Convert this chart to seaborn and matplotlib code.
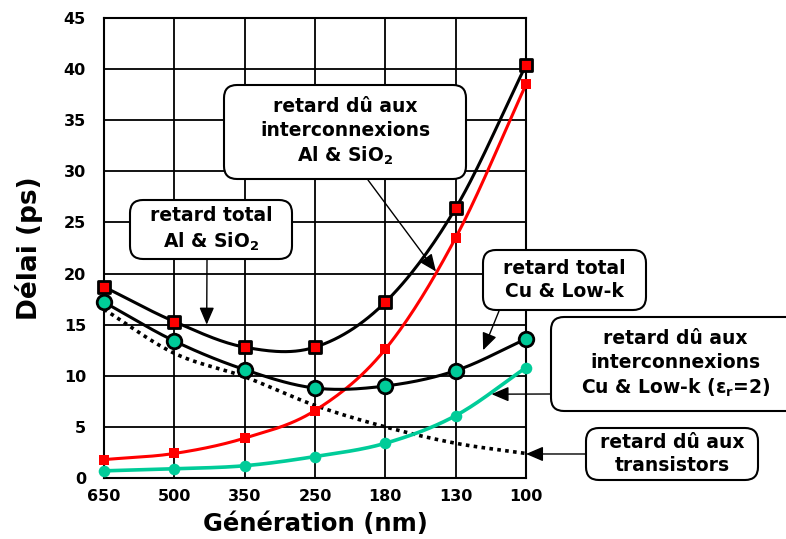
import numpy as np
import matplotlib
matplotlib.use("Agg")
import matplotlib.pyplot as plt
import seaborn as sns
from matplotlib.patches import FancyBboxPatch, ConnectionPatch

# ---------------- data ----------------
generations = ["650", "500", "350", "250", "180", "130", "100"]
interconnect_al = [1.8, 2.4, 3.9, 6.6, 12.6, 23.5, 38.5]
total_al = [18.7, 15.3, 12.8, 12.8, 17.2, 26.4, 40.4]
total_cu = [17.2, 13.4, 10.6, 8.8, 9.0, 10.5, 13.6]
interconnect_cu = [0.7, 0.9, 1.2, 2.1, 3.4, 6.1, 10.8]
transistors = [16.5, 12.2, 9.9, 7.1, 5.0, 3.4, 2.4]
y_ticks = [0, 5, 10, 15, 20, 25, 30, 35, 40, 45]

RED = "#FF0000"
TEAL = "#00CC99"

sns.set_style("white")
plt.rcParams["font.family"] = ["DejaVu Sans"]
plt.rcParams["font.weight"] = "bold"
plt.rcParams["mathtext.default"] = "bf"
for k in ("text.color", "axes.labelcolor", "xtick.color", "ytick.color"):
    plt.rcParams[k] = "black"

W, H = 786, 539
fig = plt.figure(figsize=(W / 100, H / 100), dpi=100)
ax = fig.add_axes([104 / W, 61 / H, 422 / W, 460 / H])


def smooth(vals, n=30):
    """Catmull-Rom smoothing through the points (Excel-like smoothed line)."""
    x = np.arange(len(vals), dtype=float)
    y = np.asarray(vals, dtype=float)
    px = np.concatenate([[2 * x[0] - x[1]], x, [2 * x[-1] - x[-2]]])
    py = np.concatenate([[2 * y[0] - y[1]], y, [2 * y[-1] - y[-2]]])
    xs, ys = [], []
    t = np.linspace(0, 1, n)
    for i in range(1, len(px) - 2):
        for P, out in ((px, xs), (py, ys)):
            p0, p1, p2, p3 = P[i - 1], P[i], P[i + 1], P[i + 2]
            out.extend(0.5 * (2 * p1 + (-p0 + p2) * t + (2 * p0 - 5 * p1 + 4 * p2 - p3) * t ** 2
                              + (-p0 + 3 * p1 - 3 * p2 + p3) * t ** 3))
    return np.array(xs), np.array(ys)


idx = np.arange(len(generations))

# curves
for vals, col, lw, ls, z in [
    (transistors, "black", 2.6, (0, (1, 1.2)), 2),
    (interconnect_cu, TEAL, 2.6, "-", 3),
    (interconnect_al, RED, 2.2, "-", 3),
    (total_cu, "black", 2.2, "-", 3),
    (total_al, "black", 2.2, "-", 3),
]:
    xs, ys = smooth(vals)
    sns.lineplot(x=xs, y=ys, sort=False, estimator=None, color=col, lw=lw,
                 linestyle=ls, ax=ax, zorder=z)

# markers
sns.scatterplot(x=idx, y=interconnect_cu, marker="o", s=70, color=TEAL,
                edgecolor=TEAL, linewidth=0, ax=ax, zorder=5, clip_on=False)
sns.scatterplot(x=idx, y=interconnect_al, marker="s", s=55, color=RED,
                edgecolor=RED, linewidth=0, ax=ax, zorder=5, clip_on=False)
sns.scatterplot(x=idx, y=total_cu, marker="o", s=110, color=TEAL,
                edgecolor="black", linewidth=2.0, ax=ax, zorder=5, clip_on=False)
sns.scatterplot(x=idx, y=total_al, marker="s", s=75, color=RED,
                edgecolor="black", linewidth=2.0, ax=ax, zorder=5, clip_on=False)

ax.set_xlim(0, 6)
ax.set_ylim(0, 45)
ax.set_xticks(idx)
ax.set_xticklabels(generations)
ax.set_yticks(y_ticks)
ax.tick_params(axis="both", length=0, labelsize=11.5, colors="black")
ax.tick_params(axis="x", pad=8)
ax.tick_params(axis="y", pad=13)
for lab in ax.get_xticklabels() + ax.get_yticklabels():
    lab.set_fontweight("bold")
ax.grid(True, color="black", lw=1.3)
ax.set_axisbelow(True)
for sp in ax.spines.values():
    sp.set_color("black")
    sp.set_linewidth(1.5)
ax.set_xlabel("Génération (nm)", fontsize=17.5, fontweight="bold", labelpad=6, color="black")
ax.set_ylabel("Délai (ps)", fontsize=19, fontweight="bold", labelpad=15, color="black")

# ---------------- annotation boxes ----------------
def box(x0, y0, x1, y1, text, fs=13.5):
    """x/y in reference pixels (top-left origin)."""
    patch = FancyBboxPatch((x0 / 100, (H - y1) / 100), (x1 - x0) / 100, (y1 - y0) / 100,
                           boxstyle="round,pad=0,rounding_size=0.13",
                           transform=fig.dpi_scale_trans, facecolor="white",
                           edgecolor="black", lw=1.5, zorder=10)
    fig.add_artist(patch)
    fig.text((x0 + x1) / 2 / W, 1 - (y0 + y1) / 2 / H, text, ha="center", va="center",
             multialignment="center", fontsize=fs, fontweight="bold", zorder=11,
             linespacing=1.3, color="black")


def arrow(tail_px, head_data):
    cp = ConnectionPatch(xyA=(tail_px[0] / 100, (H - tail_px[1]) / 100), coordsA=fig.dpi_scale_trans,
                         xyB=head_data, coordsB=ax.transData,
                         arrowstyle="-|>,head_length=0.7,head_width=0.3", mutation_scale=15,
                         color="black", lw=1.0, zorder=9)
    fig.add_artist(cp)


box(224, 85, 466, 179, "retard dû aux\ninterconnexions\nAl & SiO$_2$")
arrow((368, 180), (4.72, 20.2))

box(130, 200, 292, 259, "retard total\nAl & SiO$_2$")
arrow((207, 260), (1.46, 15.0))

box(483, 250, 646, 310, "retard total\nCu & Low-k")
arrow((499, 311), (5.39, 12.5))

box(551, 317, 800, 411, "retard dû aux\ninterconnexions\nCu & Low-k (ε$_r$=2)")
arrow((551, 394), (5.51, 8.2))

box(586, 428, 758, 480, "retard dû aux\ntransistors")
arrow((586, 454), (6.0, 2.35))

fig.savefig("out.png", dpi=100)
